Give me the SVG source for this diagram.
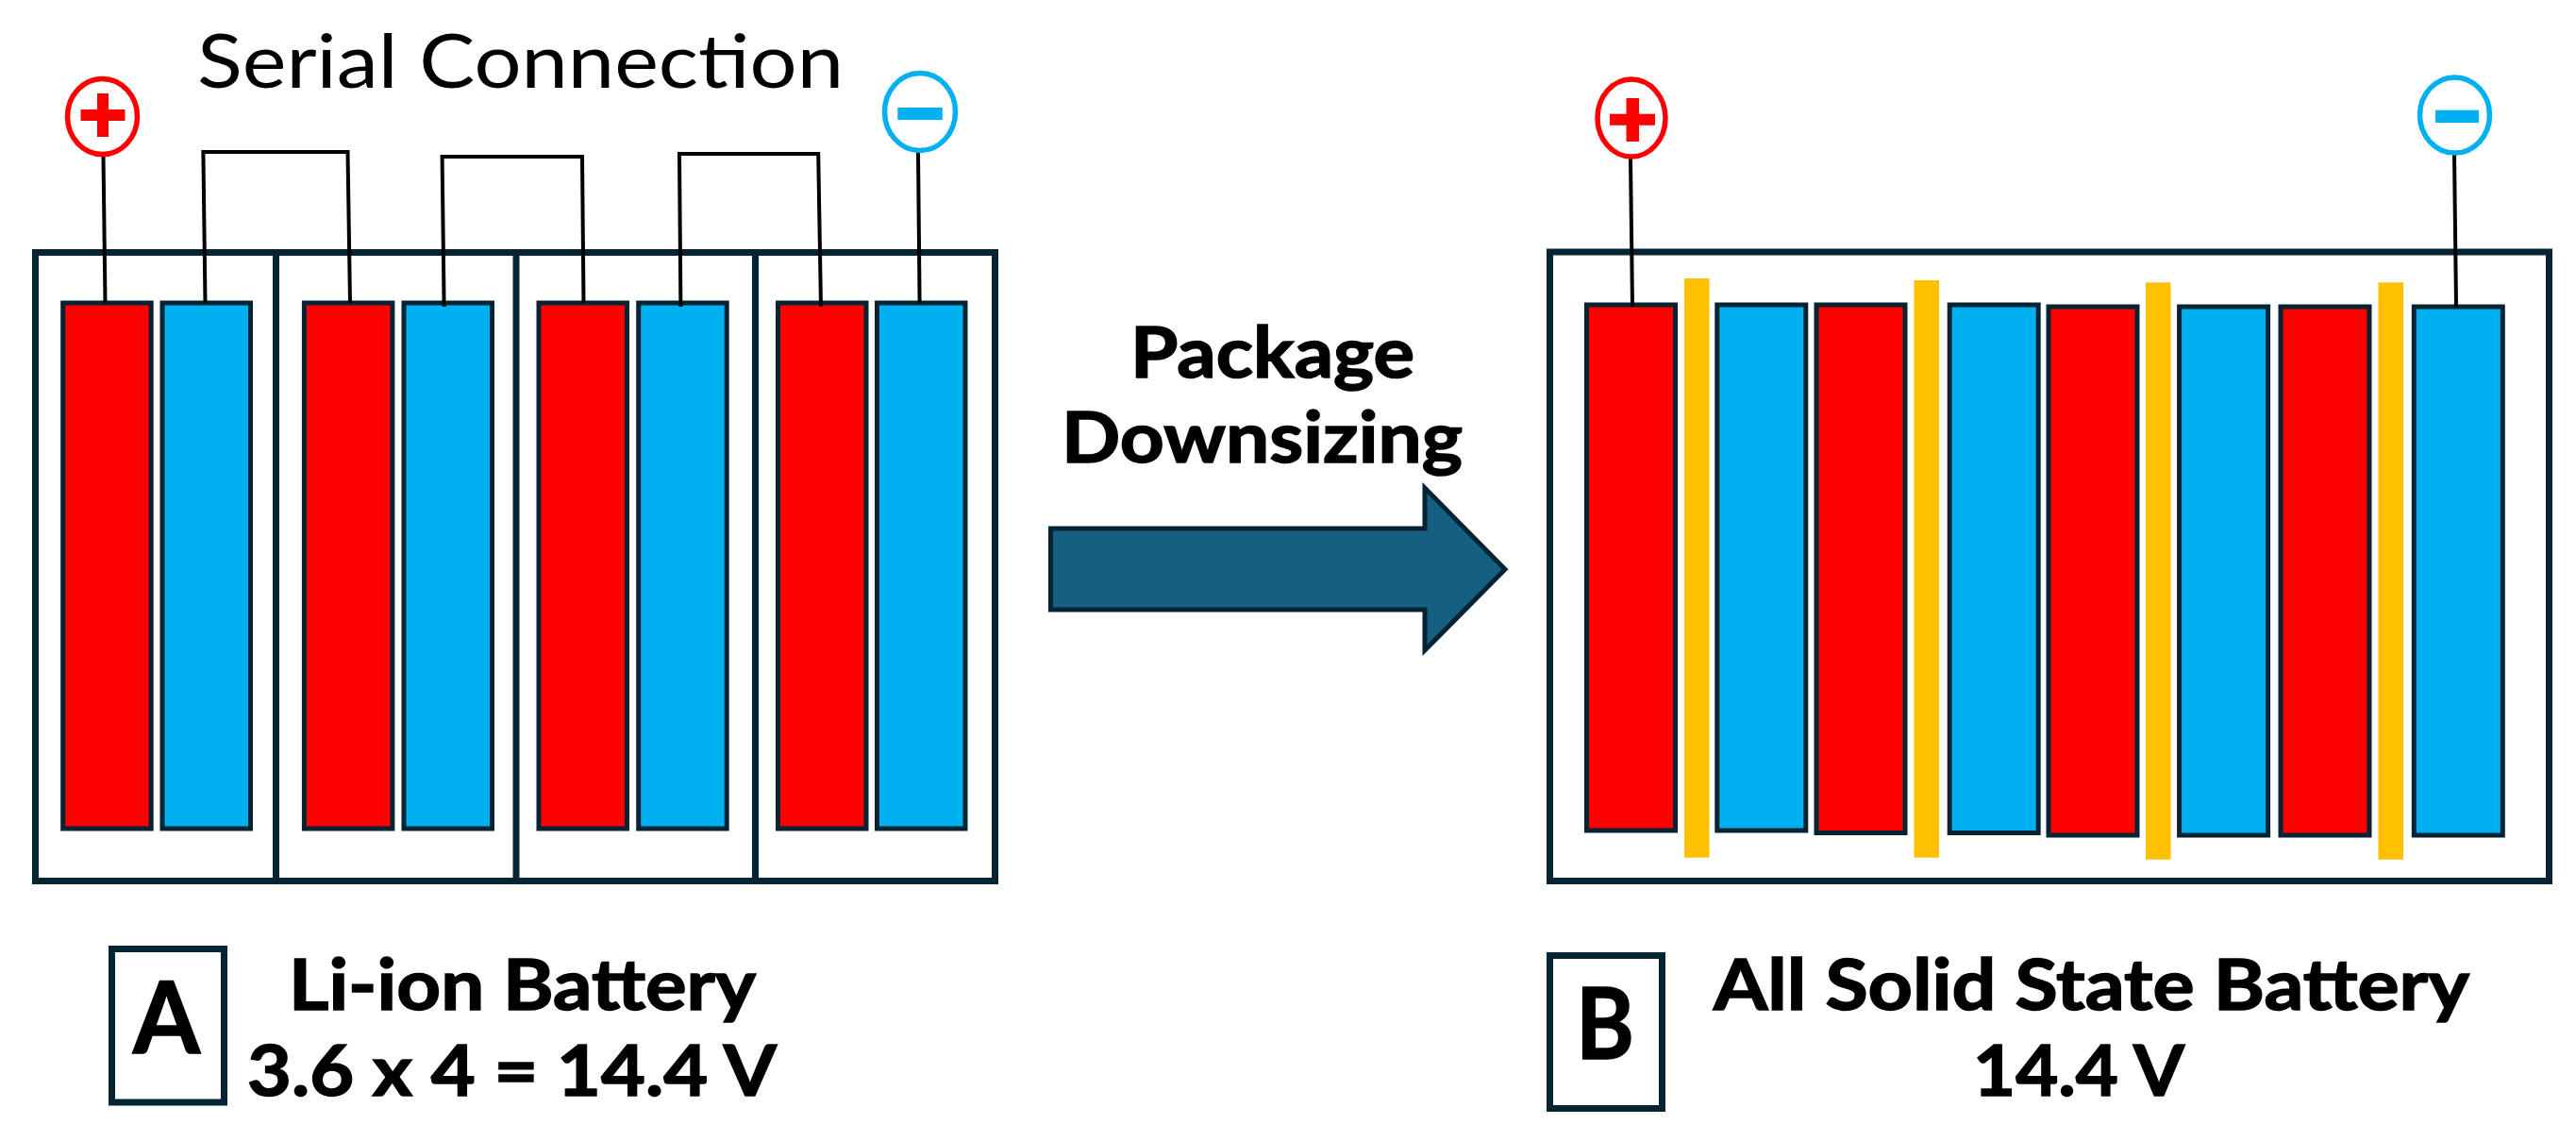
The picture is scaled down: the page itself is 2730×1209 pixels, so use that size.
<svg xmlns="http://www.w3.org/2000/svg" width="2730" height="1209" viewBox="0 0 2730 1209">
<style>
text{font-family:"Lato","Noto Sans",sans-serif;fill:#000}
.b{font-weight:700;font-size:74px;stroke:#000;stroke-width:1.500}
.big{font-weight:700;font-size:106px;stroke:#000;stroke-width:1.500}
.s{font-weight:400;font-size:80px}
.box{fill:#fff;stroke:#042433;stroke-width:7}
.div{stroke:#042433;stroke-width:7;fill:none}
.r{fill:#f00;stroke:#042433;stroke-width:5}
.c{fill:#00b0f0;stroke:#042433;stroke-width:5}
.y{fill:#ffc000}
.w{fill:none;stroke:#000;stroke-width:4}
.tp{fill:#fff;stroke:#f00;stroke-width:5.500}
.tn{fill:#fff;stroke:#00b0f0;stroke-width:5.500}
</style>
<rect width="2730" height="1209" fill="#fff"/>
<g id="pack-a">
<rect class="box" x="37.500" y="267.500" width="1017" height="666"/>
<path class="div" d="M292.500 267V934M547 267V934M800.500 267V934"/>
<rect class="r" x="66.700" y="321" width="93.500" height="557"/>
<rect class="c" x="172" y="321" width="93.500" height="557"/>
<rect class="r" x="322.400" y="321" width="93.500" height="557"/>
<rect class="c" x="428" y="321" width="93.500" height="557"/>
<rect class="r" x="571" y="321" width="93.500" height="557"/>
<rect class="c" x="676.700" y="321" width="93.500" height="557"/>
<rect class="r" x="824.500" y="321" width="93.500" height="557"/>
<rect class="c" x="929.500" y="321" width="93.500" height="557"/>
</g>
<g id="pack-b">
<rect class="box" x="1642.500" y="267" width="1059" height="666.500"/>
<rect class="r" x="1681.500" y="323" width="94" height="557"/>
<rect class="c" x="1819.800" y="323" width="94" height="557"/>
<rect class="r" x="1925" y="323" width="94" height="559.500"/>
<rect class="c" x="2066.200" y="323" width="94" height="559.500"/>
<rect class="r" x="2171" y="325" width="94" height="560"/>
<rect class="c" x="2309.600" y="325" width="94" height="560"/>
<rect class="r" x="2417" y="325" width="94" height="560"/>
<rect class="c" x="2558.300" y="325" width="94" height="560"/>
<rect class="y" x="1785" y="295" width="26.500" height="613.700"/>
<rect class="y" x="2028.500" y="297" width="26.500" height="611.700"/>
<rect class="y" x="2274" y="299.300" width="26.500" height="611.400"/>
<rect class="y" x="2520.500" y="299.300" width="26.500" height="611.400"/>
</g>
<g id="connectors">
<path class="w" d="M109.500 165L111.500 321"/>
<path class="w" d="M217.500 321L215.400 161H368.500L371 321"/>
<path class="w" d="M470.600 325L468.600 166H617L618.500 321"/>
<path class="w" d="M721.400 325L720 163H867.200L870 325"/>
<path class="w" d="M973 161L974.600 321"/>
<path class="w" d="M1728 168L1730 325"/>
<path class="w" d="M2601 163L2603 325"/>
</g>
<g id="terminal-a-plus">
<ellipse class="tp" cx="108.500" cy="123.500" rx="37" ry="40"/>
<path fill="#f00" d="M85.500 116H103V99H115V116H132.500V128H115V145H103V128H85.500Z"/>
</g>
<g id="terminal-a-minus">
<ellipse class="tn" cx="975" cy="118.500" rx="37.500" ry="41"/>
<rect fill="#00b0f0" x="951.300" y="114" width="47.500" height="13"/>
</g>
<g id="terminal-b-plus">
<ellipse class="tp" cx="1729" cy="125" rx="36" ry="41"/>
<path fill="#f00" d="M1706 120.700H1723.500V104H1737V120.700H1754V132.700H1737V150H1723.500V132.700H1706Z"/>
</g>
<g id="terminal-b-minus">
<ellipse class="tn" cx="2601.500" cy="122" rx="37" ry="40"/>
<rect fill="#00b0f0" x="2581" y="116.700" width="46" height="13.300"/>
</g>
<g id="arrow">
<path fill="#156082" stroke="#042433" stroke-width="5" d="M1113.500 560H1510V517L1595 603.300L1510 689V646H1113.500Z"/>
</g>
<g id="labels">
<text class="s" x="209" y="92.700" textLength="685" lengthAdjust="spacingAndGlyphs">Serial Connection</text>
<text class="b" x="1198" y="400" textLength="301" lengthAdjust="spacingAndGlyphs">Package</text>
<text class="b" x="1125" y="490" textLength="425" lengthAdjust="spacingAndGlyphs">Downsizing</text>
<text class="b" x="306" y="1070" textLength="495" lengthAdjust="spacingAndGlyphs">Li-ion Battery</text>
<text class="b" x="262" y="1161" textLength="561" lengthAdjust="spacingAndGlyphs">3.6 x 4 = 14.4 V</text>
<text class="b" x="1816" y="1070" textLength="801" lengthAdjust="spacingAndGlyphs">All Solid State Battery</text>
<text class="b" x="2091" y="1161" textLength="224" lengthAdjust="spacingAndGlyphs">14.4 V</text>
</g>
<g id="badge-a">
<rect class="box" x="118.500" y="1005.500" width="119" height="162.500"/>
<text class="big" x="141" y="1116" textLength="71" lengthAdjust="spacingAndGlyphs">A</text>
</g>
<g id="badge-b">
<rect class="box" x="1642.500" y="1012.500" width="119" height="162"/>
<text class="big" x="1670" y="1122" textLength="62" lengthAdjust="spacingAndGlyphs">B</text>
</g>
</svg>
